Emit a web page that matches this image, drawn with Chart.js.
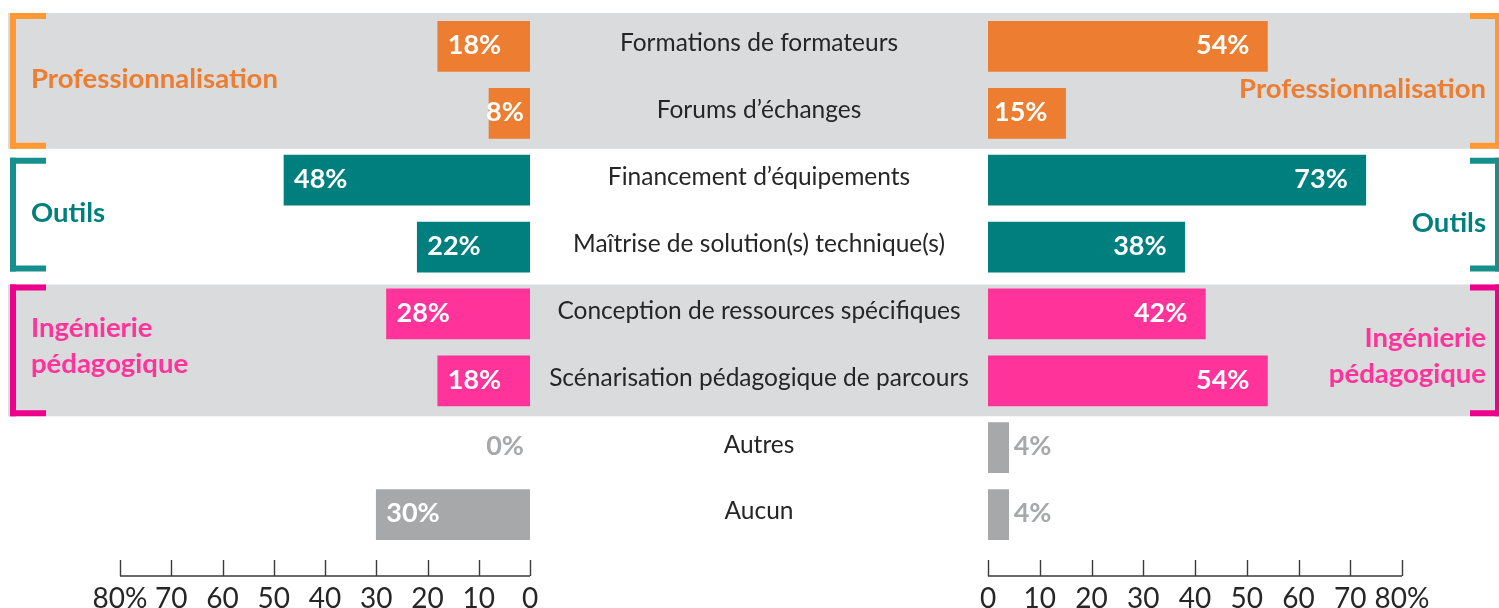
<!DOCTYPE html>
<html>
<head>
<meta charset="utf-8">
<script src="https://cdn.jsdelivr.net/npm/chart.js@4.4.1/dist/chart.umd.min.js"></script>
<style>
  html, body { margin: 0; padding: 0; background: #fff; }
  #wrap { position: relative; width: 1499px; height: 608px; }
  #wrap canvas { position: absolute; left: 0; top: 0; }
</style>
</head>
<body>
<div id="wrap">
  <canvas id="leftChart" width="1499" height="608"></canvas>
  <canvas id="rightChart" width="1499" height="608"></canvas>
</div>
<script>
// data
const categories = [
  'Formations de formateurs',
  'Forums d’échanges',
  'Financement d’équipements',
  'Maîtrise de solution(s) technique(s)',
  'Conception de ressources spécifiques',
  'Scénarisation pédagogique de parcours',
  'Autres',
  'Aucun'
];
const leftValues = [18, 8, 48, 22, 28, 18, 0, 30];
const rightValues = [54, 15, 73, 38, 42, 54, 4, 4];
const axisMax = 80;
const axisStep = 10;

const groupLabels = [['Professionnalisation'], ['Outils'], ['Ingénierie', 'pédagogique']];
const groupRows = [[0, 1], [2, 3], [4, 5]];
const groupBand = [true, false, true];

// colours
const barColors = ['#ED7D31', '#ED7D31', '#007F7F', '#007F7F', '#FF3399', '#FF3399', '#A7A8AA', '#A7A8AA'];
const groupTextColors = ['#ED7D31', '#007F7F', '#FF3399'];
const bracketColors = ['#FF9933', '#178F8C', '#EC008C'];
const bandColor = '#DADBDD';
const textColor = '#262626';
const FONT = 'Lato, "Open Sans", sans-serif';

const tickLabel = v => (v === axisMax ? v + '%' : String(v));

// numbers inside / next to the bars
const valueLabelPlugin = {
  id: 'valueLabels',
  afterDatasetsDraw(chart, args, opts) {
    const ctx = chart.ctx;
    const meta = chart.getDatasetMeta(0);
    const values = chart.data.datasets[0].data;
    ctx.save();
    ctx.font = 'bold 27px ' + FONT;
    ctx.textBaseline = 'middle';
    meta.data.forEach((bar, i) => {
      const v = values[i];
      const txt = v + '%';
      const y = bar.y - 1;
      let x;
      if (opts.side === 'left') {
        if (v === 0) {
          ctx.fillStyle = '#A7A8AA';
          ctx.textAlign = 'right';
          x = bar.base - 6;
        } else {
          ctx.fillStyle = '#fff';
          ctx.textAlign = 'left';
          x = bar.x + (v >= 10 ? 10 : -3);
        }
      } else {
        if (v >= 20) {
          ctx.fillStyle = '#fff';
          ctx.textAlign = 'right';
          x = bar.x - 18;
        } else if (v >= 10) {
          ctx.fillStyle = '#fff';
          ctx.textAlign = 'left';
          x = bar.base + 6;
        } else {
          ctx.fillStyle = '#A7A8AA';
          ctx.textAlign = 'left';
          x = bar.x + 5;
        }
      }
      ctx.fillText(txt, x, y);
    });
    ctx.restore();
  }
};

// axis line with ticks pointing up, detached from the bars
const axisPlugin = {
  id: 'axisLine',
  afterDraw(chart) {
    const ctx = chart.ctx;
    const xs = chart.scales.x;
    const yLine = chart.chartArea.bottom + 28;
    ctx.save();
    ctx.strokeStyle = '#3a3a3a';
    ctx.lineWidth = 1.4;
    ctx.beginPath();
    ctx.moveTo(xs.left, yLine);
    ctx.lineTo(xs.right, yLine);
    xs.ticks.forEach(t => {
      const px = Math.round(xs.getPixelForValue(t.value)) + 0.5;
      ctx.moveTo(px, yLine);
      ctx.lineTo(px, yLine - 16);
    });
    ctx.stroke();
    ctx.restore();
  }
};

// grey bands, category names, group names and brackets (drawn on the back canvas)
const decorPlugin = {
  id: 'decor',
  beforeDraw(chart) {
    const ys = chart.scales.y;
    const ctx = chart.ctx;
    const half = (ys.getPixelForValue(1) - ys.getPixelForValue(0)) / 2;
    ctx.save();
    ctx.fillStyle = bandColor;
    groupRows.forEach((r, g) => {
      if (!groupBand[g]) return;
      const top = ys.getPixelForValue(r[0]) - half + (g > 0 ? 4 : 0);
      const bottom = ys.getPixelForValue(r[1]) + half + 2;
      ctx.fillRect(8, top, chart.width - 8, bottom - top);
    });
    ctx.restore();
  },
  afterDraw(chart) {
    const ys = chart.scales.y;
    const ctx = chart.ctx;
    const half = (ys.getPixelForValue(1) - ys.getPixelForValue(0)) / 2;
    const cx = (chart.chartArea.right + 988) / 2;
    ctx.save();
    // category names in the middle
    ctx.font = '24.5px ' + FONT;
    ctx.fillStyle = textColor;
    ctx.textAlign = 'center';
    ctx.textBaseline = 'middle';
    categories.forEach((c, i) => {
      ctx.fillText(c, cx, ys.getPixelForValue(i) - 3);
    });
    // groups
    groupRows.forEach((r, g) => {
      const inset = groupBand[g] ? 0 : 11;
      const top = ys.getPixelForValue(r[0]) - half + inset + (g > 0 && groupBand[g] ? 4 : 0);
      const bottom = ys.getPixelForValue(r[1]) + half + 2 - inset;
      const mid = (ys.getPixelForValue(r[0]) + ys.getPixelForValue(r[1])) / 2;
      ctx.fillStyle = bracketColors[g];
      // left bracket
      ctx.fillRect(10, top, 6, bottom - top);
      ctx.fillRect(10, top, 36, 6);
      ctx.fillRect(10, bottom - 6, 36, 6);
      // right bracket
      ctx.fillRect(1495, top, 4, bottom - top);
      ctx.fillRect(1470, top, 29, 6);
      ctx.fillRect(1470, bottom - 6, 29, 6);

      ctx.font = 'bold 27.5px ' + FONT;
      ctx.fillStyle = groupTextColors[g];
      const lines = groupLabels[g];
      const lh = 36;
      lines.forEach((ln, k) => {
        const off = (k - (lines.length - 1) / 2) * lh;
        ctx.textAlign = 'left';
        ctx.fillText(ln, 31, mid - 1 + off);
        ctx.textAlign = 'right';
        ctx.fillText(ln, 1486, mid + 9 + off);
      });
    });
    ctx.restore();
  }
};

function makeChart(id, values, side) {
  const ctx = document.getElementById(id).getContext('2d');
  return new Chart(ctx, {
    type: 'bar',
    data: {
      labels: categories,
      datasets: [{
        data: values,
        backgroundColor: c => (c.raw === 0 ? 'rgba(0,0,0,0)' : barColors[c.dataIndex]),
        borderWidth: 0,
        barThickness: 50
      }]
    },
    options: {
      indexAxis: 'y',
      responsive: false,
      animation: false,
      layout: {
        padding: side === 'left'
          ? { left: 120, right: 969, top: 13, bottom: 0 }
          : { left: 988, right: 97, top: 13, bottom: 0 }
      },
      scales: {
        x: {
          type: 'linear',
          reverse: side === 'left',
          min: 0,
          max: axisMax,
          grid: { display: false, drawTicks: false },
          border: { display: false },
          afterFit: scale => { scale.height = 60; },
          ticks: {
            stepSize: axisStep,
            autoSkip: false,
            padding: 40,
            color: textColor,
            font: { family: FONT, size: 28, lineHeight: 0.8 },
            maxRotation: 0,
            callback: v => tickLabel(v)
          }
        },
        y: { type: 'category', display: false }
      },
      plugins: {
        legend: { display: false },
        tooltip: { enabled: false },
        valueLabels: { side: side }
      }
    },
    plugins: side === 'left'
      ? [decorPlugin, valueLabelPlugin, axisPlugin]
      : [valueLabelPlugin, axisPlugin]
  });
}

makeChart('leftChart', leftValues, 'left');
makeChart('rightChart', rightValues, 'right');
</script>
</body>
</html>
